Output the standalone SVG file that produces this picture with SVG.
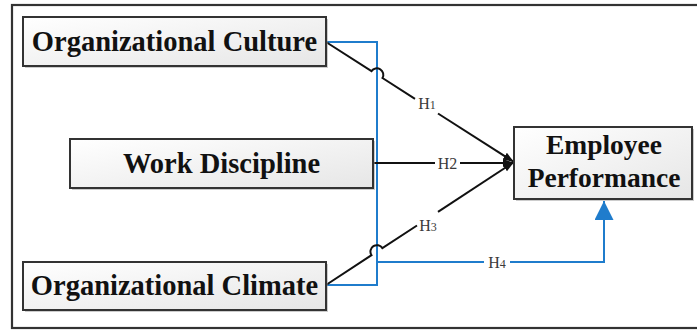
<svg xmlns="http://www.w3.org/2000/svg" width="697" height="331" viewBox="0 0 697 331">
<defs>
<linearGradient id="boxg" x1="0" y1="0" x2="1" y2="1">
<stop offset="0" stop-color="#ffffff"/>
<stop offset="1" stop-color="#e6e6e6"/>
</linearGradient>
<marker id="blk" markerWidth="12" markerHeight="10" refX="11" refY="5" orient="auto" markerUnits="userSpaceOnUse">
<path d="M0,1 L11,5 L0,9 Z" fill="#111"/>
</marker>
<marker id="blu" markerWidth="20" markerHeight="20" refX="19" refY="9.5" orient="auto" markerUnits="userSpaceOnUse">
<path d="M0,0 L19,9.5 L0,19 Z" fill="#1f7ccc"/>
</marker>
</defs>
<style>
.box{fill:url(#boxg);stroke:#333;stroke-width:2}
.shadow{fill:#9a9a9a;opacity:0.5}
.nt{font-family:"Liberation Serif","Times New Roman",serif;font-weight:bold;font-size:28.5px;fill:#111;text-anchor:middle}
.ep{font-size:27.5px}
.lb{font-family:"Liberation Serif","Times New Roman",serif;font-size:16px;fill:#3a3a3a;text-anchor:middle}
.bl{fill:none;stroke:#111;stroke-width:2}
.bu{fill:none;stroke:#1f7ccc;stroke-width:2}
</style>
<rect x="12" y="5" width="690" height="323" fill="#fff" stroke="#333" stroke-width="2.2"/>
<g id="connectors">
<path class="bu" d="M326,42 H377 V285 H326"/>
<path class="bu" d="M377,262 H484"/>
<path class="bu" d="M510,262 H604 V201" marker-end="url(#blu)"/>
<path class="bl" d="M326,42 L371.5,71.1 A6.5,6.5 0 0 1 382.5,78 L415,98.8"/>
<path class="bl" d="M438,113.5 L514,162" marker-end="url(#blk)"/>
<path class="bl" d="M373,163 H435"/>
<path class="bl" d="M460,163 H514" marker-end="url(#blk)"/>
<path class="bl" d="M326,285 L371.5,255.2 A6.5,6.5 0 0 1 382.4,248.1 L417,225.5"/>
<path class="bl" d="M438,211.8 L514,162" marker-end="url(#blk)"/>
<text class="lb" x="427" y="108.5">H<tspan font-size="12">1</tspan></text>
<text class="lb" x="447.5" y="168.5">H2</text>
<text class="lb" x="428" y="230.5">H<tspan font-size="12">3</tspan></text>
<text class="lb" x="497" y="267.5">H<tspan font-size="12">4</tspan></text>
</g>
<g id="culture">
<rect class="shadow" x="25" y="19" width="303" height="49"/>
<rect class="box" x="23" y="17" width="303" height="49"/>
<text class="nt" x="174.5" y="50.5">Organizational Culture</text>
</g>
<g id="discipline">
<rect class="shadow" x="72" y="141" width="303" height="49"/>
<rect class="box" x="70" y="139" width="303" height="49"/>
<text class="nt" x="221.5" y="172.5">Work Discipline</text>
</g>
<g id="climate">
<rect class="shadow" x="25" y="264" width="303" height="48"/>
<rect class="box" x="23" y="262" width="303" height="48"/>
<text class="nt" x="174.5" y="294.5">Organizational Climate</text>
</g>
<g id="performance">
<rect class="shadow" x="516" y="129" width="178" height="72"/>
<rect class="box" x="514" y="127" width="178" height="72"/>
<text class="nt ep" x="604" y="154">Employee</text>
<text class="nt ep" x="604" y="187">Performance</text>
</g>
</svg>
